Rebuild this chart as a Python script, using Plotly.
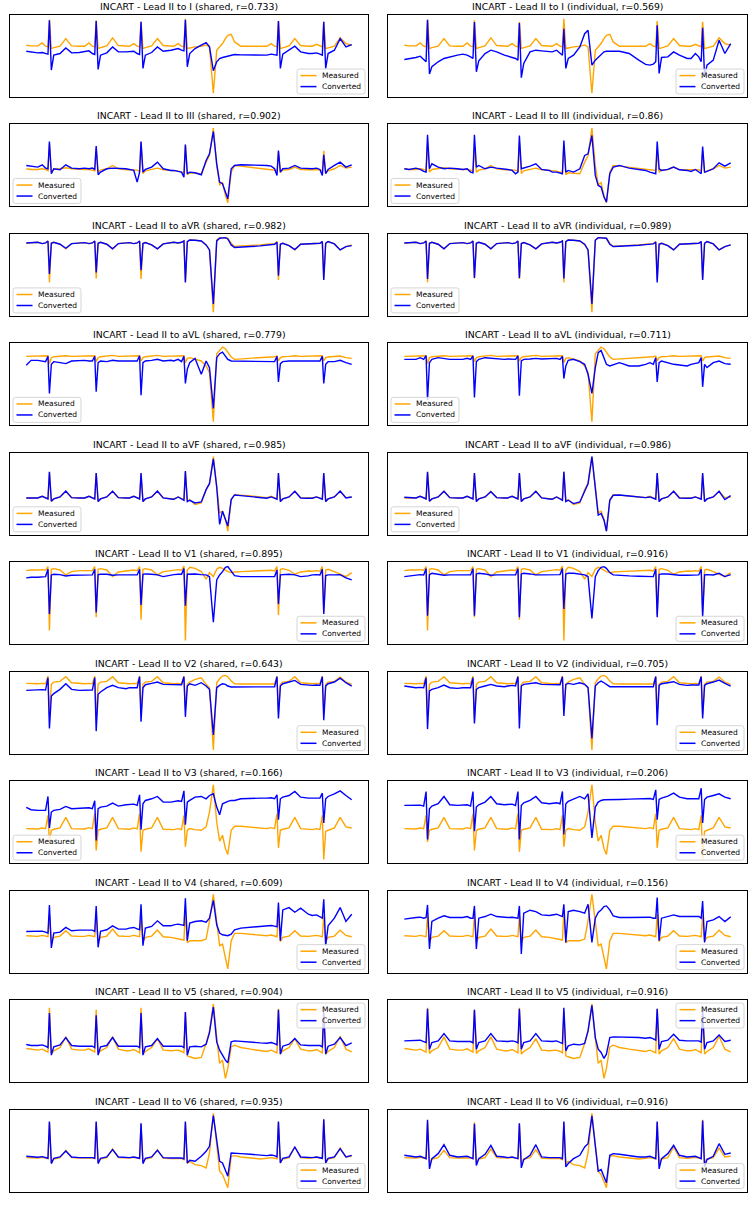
import plotly.graph_objects as go

# sample index grid (shared by all panels)
t = [55, 65,
     79, 88, 95, 100, 103, 107, 112, 125, 137, 149, 165,
     176, 185, 192, 197, 200, 204, 209, 222, 234, 246, 262,
     269, 278, 285, 290, 293, 297, 302, 315, 327, 339, 355,
     361, 370, 377, 382, 385, 389, 394, 405, 418, 428, 435, 443, 450, 456, 462, 468, 473, 480, 487, 500, 520, 540,
     554, 563, 570, 575, 578, 582, 587, 600, 612, 624, 640,
     648, 657, 664, 669, 672, 676, 681, 694, 706, 718, 730]

leads = ["I", "III", "aVR", "aVL", "aVF", "V1", "V2", "V3", "V4", "V5", "V6"]
r_shared = [0.733, 0.902, 0.982, 0.779, 0.985, 0.895, 0.643, 0.166, 0.609, 0.904, 0.935]
r_indiv = [0.569, 0.86, 0.989, 0.711, 0.986, 0.916, 0.705, 0.206, 0.156, 0.916, 0.916]
series_names = ["Measured", "Converted"]
series_colors = ["orange", "blue"]

M_I = [155,153,
 153,162,152,150,232,145,148,152,175,153,152,
 152,162,152,150,230,145,148,153,177,154,152,
 152,160,152,150,226,145,148,153,175,154,152,
 152,160,152,150,235,145,147,150,152,156,150,10,140,150,160,175,185,188,165,152,152,152,
 152,160,152,150,228,145,147,153,175,154,152,
 152,158,152,150,226,145,147,152,177,160,155]
C_I_s = [137,135,
 132,133,130,128,230,80,125,130,147,132,133,
 135,138,130,127,228,82,125,132,150,135,135,
 136,137,130,127,226,85,125,133,150,137,140,
 142,145,140,138,232,90,130,145,155,163,150,78,105,115,118,120,122,125,127,126,125,125,
 125,128,127,125,228,85,128,140,152,135,130,
 130,132,128,125,226,85,130,140,175,150,157]
C_I_i = [112,114,
 118,122,112,105,232,68,90,105,115,120,125,
 128,125,120,115,225,75,108,130,140,135,125,
 122,120,115,110,222,57,100,135,140,138,135,
 135,140,130,125,205,85,115,125,150,190,200,95,110,118,125,135,137,138,137,137,130,110,
 97,95,98,105,215,70,118,120,135,125,115,
 115,130,120,105,208,60,95,110,170,130,160]

M_III = [110,108,
 108,110,108,104,185,100,108,110,113,110,108,
 108,108,106,104,172,100,106,110,120,110,107,
 107,106,106,102,190,96,104,108,112,107,105,
 104,103,100,98,182,92,98,96,95,130,150,232,120,62,68,30,8,100,120,118,115,112,
 110,108,107,105,160,100,106,108,115,108,107,
 107,108,107,103,164,98,104,110,120,112,115]
C_III_s = [120,117,
 115,122,112,110,192,95,110,107,122,112,110,
 112,110,112,108,178,92,100,110,112,112,110,
 108,105,70,100,192,100,108,115,130,110,105,
 105,102,100,85,183,95,100,98,92,135,155,222,125,70,65,40,20,110,120,122,122,120,
 120,118,110,90,165,100,110,112,120,112,110,
 110,112,108,90,152,95,108,120,130,115,122]
C_III_i = [110,108,
 112,108,102,100,212,110,125,115,110,112,110,
 108,110,100,98,212,115,120,110,115,112,110,
 108,105,95,100,210,110,112,118,125,108,105,
 100,100,98,95,195,100,105,100,110,150,155,210,90,60,55,25,10,95,115,120,112,108,
 105,100,98,95,192,110,105,108,115,107,105,
 102,108,100,95,177,100,102,110,128,118,128]

M_aVR = [215,216,
 218,214,216,222,97,215,218,212,198,214,216,
 217,214,216,222,109,215,218,212,198,214,216,
 217,214,216,222,107,214,217,210,198,213,216,
 218,216,218,222,97,220,225,224,222,210,195,7,225,232,232,232,230,215,205,207,208,210,
 212,212,214,220,104,212,215,208,195,212,214,
 214,214,215,220,107,215,220,213,195,205,210]
C_aVR_s = [216,217,
 218,214,216,222,122,215,218,212,200,214,216,
 217,214,216,222,127,215,218,212,198,214,216,
 217,214,216,222,134,214,217,210,198,213,216,
 218,216,218,222,97,220,225,224,222,210,195,32,222,230,230,232,228,210,202,204,205,207,
 210,210,212,218,117,212,215,208,196,212,214,
 214,214,215,220,104,215,220,213,195,205,208]
C_aVR_i = [216,217,
 218,214,216,222,107,215,218,212,198,214,216,
 217,214,216,222,110,215,218,212,198,214,216,
 217,214,216,222,110,214,217,210,198,213,216,
 218,216,218,222,109,220,225,224,222,212,195,32,224,232,232,232,230,212,205,206,207,209,
 211,211,213,219,97,212,215,208,195,212,214,
 214,214,215,220,104,215,220,213,195,205,210]

M_aVL = [204,204,
 204,205,204,206,182,200,203,204,206,204,204,
 204,205,204,206,188,200,203,204,207,204,204,
 204,205,204,206,190,200,203,204,207,204,204,
 204,205,204,206,185,198,200,196,190,175,155,7,212,222,232,227,217,202,195,196,198,200,
 202,203,203,205,190,200,203,204,206,204,204,
 204,204,204,206,190,200,202,203,205,200,198]
C_aVL_s = [177,192,
 192,190,188,204,92,180,188,185,182,190,192,
 192,190,190,204,97,185,190,188,192,190,190,
 192,192,190,206,87,185,190,192,195,190,192,
 190,195,188,204,122,165,185,198,150,190,170,47,200,212,217,205,195,190,190,190,190,190,
 190,190,188,204,127,182,188,190,190,188,190,
 190,190,190,204,122,180,188,188,192,185,180]
C_aVL_i = [195,195,
 195,200,195,206,72,185,195,200,198,195,195,
 195,198,195,205,80,188,195,200,198,196,195,
 196,195,195,205,85,190,195,196,198,196,196,
 196,198,195,204,137,175,192,195,188,180,150,92,170,215,222,200,180,175,178,185,175,175,
 180,185,180,200,127,185,190,185,180,178,175,
 180,182,185,200,112,180,170,185,190,182,180]

M_aVF = [107,107,
 107,112,107,104,184,97,104,110,127,108,107,
 107,112,107,104,182,97,104,110,127,108,107,
 107,112,107,104,180,97,104,110,127,107,105,
 104,110,105,102,187,97,102,87,92,132,152,232,142,62,67,42,7,102,117,116,113,110,
 108,112,107,104,180,97,104,110,127,108,107,
 107,110,107,104,180,97,104,110,127,108,110]
C_aVF_s = [107,107,
 107,112,107,104,186,97,104,110,128,108,107,
 107,112,107,104,182,96,104,110,127,108,107,
 107,112,107,104,182,96,104,110,128,107,104,
 103,110,104,100,188,96,100,92,95,132,150,225,140,27,67,42,22,102,116,114,111,108,
 106,110,106,103,182,96,104,110,127,107,106,
 106,110,106,103,182,96,104,110,128,107,110]
C_aVF_i = [109,108,
 107,112,107,104,186,97,104,110,127,108,107,
 107,112,107,104,182,96,104,110,126,108,107,
 107,112,107,104,182,96,104,110,127,107,104,
 103,110,104,100,186,96,100,90,95,130,150,232,140,55,60,40,7,100,115,116,113,110,
 108,110,106,103,182,96,104,110,127,107,106,
 106,110,106,103,182,96,104,110,127,102,114]

M_V1 = [218,220,
 220,221,219,230,37,222,224,220,205,215,218,
 218,220,218,230,77,222,224,220,200,214,218,
 218,220,218,230,70,222,224,220,205,215,218,
 219,221,219,232,7,220,228,225,215,192,212,200,222,228,225,220,215,212,214,215,216,216,
 217,219,217,230,84,222,224,219,207,214,217,
 216,218,216,230,92,220,222,215,208,200,212]
C_V1_s = [196,198,
 198,200,200,222,87,205,207,206,202,204,205,
 205,205,205,222,92,206,207,207,204,205,205,
 205,206,205,222,114,207,208,207,205,200,205,
 206,207,207,224,112,207,208,208,206,205,200,62,190,205,215,228,230,215,203,200,200,200,
 200,201,200,220,117,205,206,207,205,200,202,
 205,206,205,222,87,203,205,205,206,196,190]
C_V1_i = [200,202,
 204,206,205,224,82,206,210,208,204,205,205,
 205,206,205,224,82,208,210,208,204,205,205,
 205,206,205,224,77,208,210,208,205,205,205,
 206,207,206,224,102,208,210,210,206,205,200,74,200,218,228,230,225,212,205,203,202,201,
 200,201,200,222,77,206,208,208,206,204,204,
 205,206,205,222,77,205,206,205,210,200,206]

M_V2 = [208,207,
 207,208,207,230,110,205,212,214,228,210,207,
 207,208,207,230,100,205,212,214,228,210,207,
 207,208,207,230,120,205,212,214,228,210,207,
 207,208,207,230,130,205,212,220,225,205,195,7,210,222,230,232,228,215,207,206,206,206,
 206,207,206,230,120,205,212,214,228,210,207,
 207,208,207,230,115,205,212,214,227,212,205]
C_V2_s = [187,188,
 188,189,188,225,72,170,177,190,207,190,187,
 188,189,188,225,64,175,182,195,202,195,192,
 195,196,195,228,92,195,204,208,212,205,204,
 204,205,204,228,107,200,207,202,210,200,190,52,195,202,207,205,200,197,197,197,197,197,
 198,199,198,228,102,200,207,212,217,205,202,
 202,203,202,228,97,200,207,212,224,210,200]
C_V2_i = [200,198,
 195,196,195,225,70,185,190,195,203,195,193,
 195,196,195,225,87,190,195,200,205,200,198,
 200,202,200,228,72,200,205,208,210,205,204,
 204,205,204,228,110,205,208,205,210,205,195,42,200,210,215,210,205,198,198,198,198,198,
 198,199,198,228,82,202,207,210,213,205,202,
 203,204,203,228,102,202,207,212,218,208,200]

M_V3 = [100,100,
 99,102,100,140,60,95,98,102,134,100,99,
 99,103,100,145,34,95,98,102,134,100,98,
 98,102,99,145,30,95,98,102,134,98,97,
 97,100,97,140,45,95,100,97,95,105,150,232,120,62,80,40,22,95,107,107,104,102,
 100,103,100,145,42,95,98,102,134,100,98,
 97,100,97,140,7,92,95,102,134,105,102]
C_V3_s = [164,157,
 155,156,155,197,102,150,155,158,167,160,162,
 162,163,160,184,64,160,165,168,177,168,172,
 172,174,170,202,97,175,185,190,197,180,180,
 182,184,182,214,112,180,185,195,197,190,200,205,165,142,175,180,182,185,185,190,192,192,
 192,193,190,202,127,190,195,200,212,195,192,
 192,194,192,207,117,190,197,205,214,200,187]
C_V3_i = [170,170,
 170,171,168,212,67,160,168,175,197,172,170,
 170,172,168,212,92,165,172,180,197,175,172,
 172,174,170,212,67,170,178,185,197,178,175,
 176,178,175,212,82,175,182,190,197,190,205,72,165,180,185,187,187,186,187,188,189,190,
 190,191,188,217,127,188,192,198,207,195,190,
 190,192,190,222,117,188,195,200,205,195,190]

M_V4 = [107,106,
 105,108,105,104,170,90,102,106,122,106,105,
 105,108,105,104,172,90,102,106,127,106,105,
 105,108,105,104,170,88,102,106,124,104,102,
 100,98,96,94,180,86,92,92,92,97,152,232,142,77,82,37,7,92,114,114,111,108,
 107,109,106,104,172,90,102,106,122,106,105,
 106,108,106,104,168,90,102,106,124,108,104]
C_V4_s = [120,120,
 120,121,118,115,200,70,115,118,132,122,124,
 124,126,124,120,197,72,120,125,137,127,127,
 130,132,128,125,202,77,130,135,152,137,137,
 140,142,140,138,220,92,145,150,152,148,160,214,140,115,110,108,107,112,125,130,132,135,
 137,138,136,134,207,92,185,192,178,190,172,
 168,170,165,160,217,77,137,160,192,150,172]
C_V4_i = [157,160,
 162,163,160,162,200,67,150,160,167,162,162,
 162,165,160,160,197,67,160,165,172,165,162,
 162,163,160,160,197,52,175,184,180,170,168,
 170,172,168,165,202,87,180,184,180,175,202,87,160,177,185,195,197,185,167,162,162,162,
 162,163,160,160,222,92,160,165,170,165,165,
 165,167,165,160,212,87,150,155,165,150,164]

M_V5 = [97,94,
 92,95,90,86,220,82,90,100,132,95,92,
 92,96,90,86,214,82,90,100,132,95,90,
 90,94,88,84,220,80,88,100,127,92,90,
 90,92,88,84,207,75,72,67,70,112,150,232,130,52,62,7,37,102,107,100,95,90,
 88,92,88,84,217,80,90,100,127,95,90,
 90,94,88,84,212,80,88,100,134,95,87]
C_V5_s = [109,106,
 106,108,104,100,204,77,102,108,130,106,104,
 104,106,104,100,197,77,102,106,130,104,104,
 104,106,104,100,204,77,102,106,127,104,104,
 104,106,104,100,207,77,102,104,102,110,145,222,117,92,77,62,54,117,120,118,115,114,
 113,115,112,108,214,80,104,110,127,108,106,
 106,108,106,102,207,80,104,110,130,106,114]
C_V5_i = [120,120,
 120,122,118,115,217,95,115,120,142,120,118,
 118,120,118,114,214,95,115,120,142,120,118,
 118,120,118,114,217,95,115,120,142,120,118,
 118,120,116,112,220,90,105,110,108,112,150,227,130,95,85,67,80,130,132,132,132,130,
 128,130,126,122,217,95,118,122,140,122,120,
 120,122,120,116,212,95,115,120,138,118,122]

M_V6 = [98,97,
 97,99,97,95,205,82,94,98,120,98,97,
 97,99,97,95,205,82,94,98,124,98,97,
 97,99,97,95,200,82,94,98,122,96,95,
 95,97,95,92,205,80,87,77,74,67,112,232,142,57,47,22,7,102,104,100,97,94,
 96,98,96,94,205,82,94,98,130,98,96,
 97,99,97,95,212,82,94,98,127,100,102]
C_V6_s = [102,100,
 99,101,99,96,207,80,96,100,118,100,98,
 98,100,98,96,207,80,96,100,122,100,98,
 98,100,98,96,202,80,96,100,120,98,97,
 97,99,97,94,207,82,90,87,102,117,132,225,142,87,82,57,42,112,112,110,108,106,
 104,106,104,100,207,82,96,100,130,100,98,
 98,100,98,96,214,82,96,100,125,100,105]
C_V6_i = [105,102,
 100,102,98,95,212,64,95,110,137,105,100,
 100,102,98,95,200,74,95,108,135,102,100,
 98,100,98,95,202,67,92,105,137,100,98,
 98,100,98,95,207,70,80,95,105,130,140,224,130,57,62,42,22,105,110,108,103,100,
 100,102,98,95,207,64,95,110,135,105,100,
 100,102,98,95,210,70,92,102,140,108,112]

measured = [M_I, M_III, M_aVR, M_aVL, M_aVF, M_V1, M_V2, M_V3, M_V4, M_V5, M_V6]
conv_shared = [C_I_s, C_III_s, C_aVR_s, C_aVL_s, C_aVF_s, C_V1_s, C_V2_s, C_V3_s, C_V4_s, C_V5_s, C_V6_s]
conv_indiv = [C_I_i, C_III_i, C_aVR_i, C_aVL_i, C_aVF_i, C_V1_i, C_V2_i, C_V3_i, C_V4_i, C_V5_i, C_V6_i]

# legend placement per row (left, right): lr = lower right, ll = lower left, ur = upper right
legend_loc = [("lr", "lr"), ("ll", "ll"), ("ll", "ll"), ("ll", "ll"), ("ll", "ll"),
              ("lr", "lr"), ("lr", "lr"), ("ll", "lr"), ("lr", "lr"), ("ur", "ur"), ("lr", "lr")]

W, H = 756, 1205
col_px = [(10, 368), (388, 747)]
row_top0, row_h, row_pitch = 15, 82, 109.45


def fx(px):
    return px / W


def fy(py):
    return 1 - py / H


fig = go.Figure()
layout = dict(width=W, height=H, margin=dict(l=0, r=0, t=0, b=0),
              paper_bgcolor="white", plot_bgcolor="white", showlegend=False,
              font=dict(family="DejaVu Sans", color="black"))
annotations = []
shapes = []

xpad = 0.05 * (max(t) - min(t))
xr = [min(t) - xpad, max(t) + xpad]

LW, LH = 68, 25  # legend box size in px

for k in range(11):
    top_px = row_top0 + row_pitch * k
    bot_px = top_px + row_h
    yd = [fy(bot_px), fy(top_px)]
    for c in range(2):
        idx = 2 * k + c + 1
        xs = "" if idx == 1 else str(idx)
        conv = conv_shared[k] if c == 0 else conv_indiv[k]
        meas = measured[k]
        for name, col, ys in ((series_names[0], series_colors[0], meas),
                              (series_names[1], series_colors[1], conv)):
            fig.add_trace(go.Scatter(x=t, y=ys, mode="lines", name=name,
                                     line=dict(color=col, width=1.4),
                                     xaxis="x" + xs, yaxis="y" + xs))
        lo = min(min(meas), min(conv))
        hi = max(max(meas), max(conv))
        ypad = 0.05 * (hi - lo)
        x0p, x1p = col_px[c]
        xd = [fx(x0p), fx(x1p)]
        ax = dict(showticklabels=False, showgrid=False, zeroline=False, ticks="",
                  showline=True, mirror=True, linecolor="black", linewidth=0.8)
        layout["xaxis" + xs] = dict(ax, domain=xd, range=xr, anchor="y" + xs)
        layout["yaxis" + xs] = dict(ax, domain=yd, range=[lo - ypad, hi + ypad], anchor="x" + xs)
        mode = "shared" if c == 0 else "individual"
        rv = r_shared[k] if c == 0 else r_indiv[k]
        annotations.append(dict(text=f"INCART - Lead II to {leads[k]} ({mode}, r={rv})",
                                x=(xd[0] + xd[1]) / 2, y=fy(top_px - 8.5),
                                xref="paper", yref="paper", xanchor="center", yanchor="middle",
                                showarrow=False, font=dict(size=9.3, family="DejaVu Sans", color="black")))
        # legend box
        loc = legend_loc[k][c]
        bx0 = (x1p - 3 - LW) if loc[1] == "r" else (x0p + 3)
        by0 = (bot_px - 3 - LH) if loc[0] == "l" else (top_px + 3)
        bx1, by1 = bx0 + LW, by0 + LH
        r = 2.5
        path = (f"M{fx(bx0 + r)},{fy(by0)} L{fx(bx1 - r)},{fy(by0)} Q{fx(bx1)},{fy(by0)} {fx(bx1)},{fy(by0 + r)} "
                f"L{fx(bx1)},{fy(by1 - r)} Q{fx(bx1)},{fy(by1)} {fx(bx1 - r)},{fy(by1)} "
                f"L{fx(bx0 + r)},{fy(by1)} Q{fx(bx0)},{fy(by1)} {fx(bx0)},{fy(by1 - r)} "
                f"L{fx(bx0)},{fy(by0 + r)} Q{fx(bx0)},{fy(by0)} {fx(bx0 + r)},{fy(by0)} Z")
        shapes.append(dict(type="path", path=path, xref="paper", yref="paper",
                           fillcolor="rgba(255,255,255,0.8)", line=dict(color="#cccccc", width=0.8),
                           layer="above"))
        for j in range(2):
            ry = by0 + 6.6 + 11 * j
            shapes.append(dict(type="line", xref="paper", yref="paper",
                               x0=fx(bx0 + 3.5), x1=fx(bx0 + 19.5), y0=fy(ry), y1=fy(ry),
                               line=dict(color=series_colors[j], width=1.5), layer="above"))
            annotations.append(dict(text=series_names[j], x=fx(bx0 + 23.5), y=fy(ry),
                                    xref="paper", yref="paper", xanchor="left", yanchor="middle",
                                    showarrow=False, borderpad=0,
                                    font=dict(size=7.5, family="DejaVu Sans", color="black")))

layout["annotations"] = annotations
layout["shapes"] = shapes
fig.update_layout(**layout)
# remove the default 8px page margin so the figure fills the 756x1205 window exactly
fig.write_html("out.html",
               config={"displayModeBar": False},
               post_script="document.body.style.margin='0';document.body.style.overflow='hidden';")
